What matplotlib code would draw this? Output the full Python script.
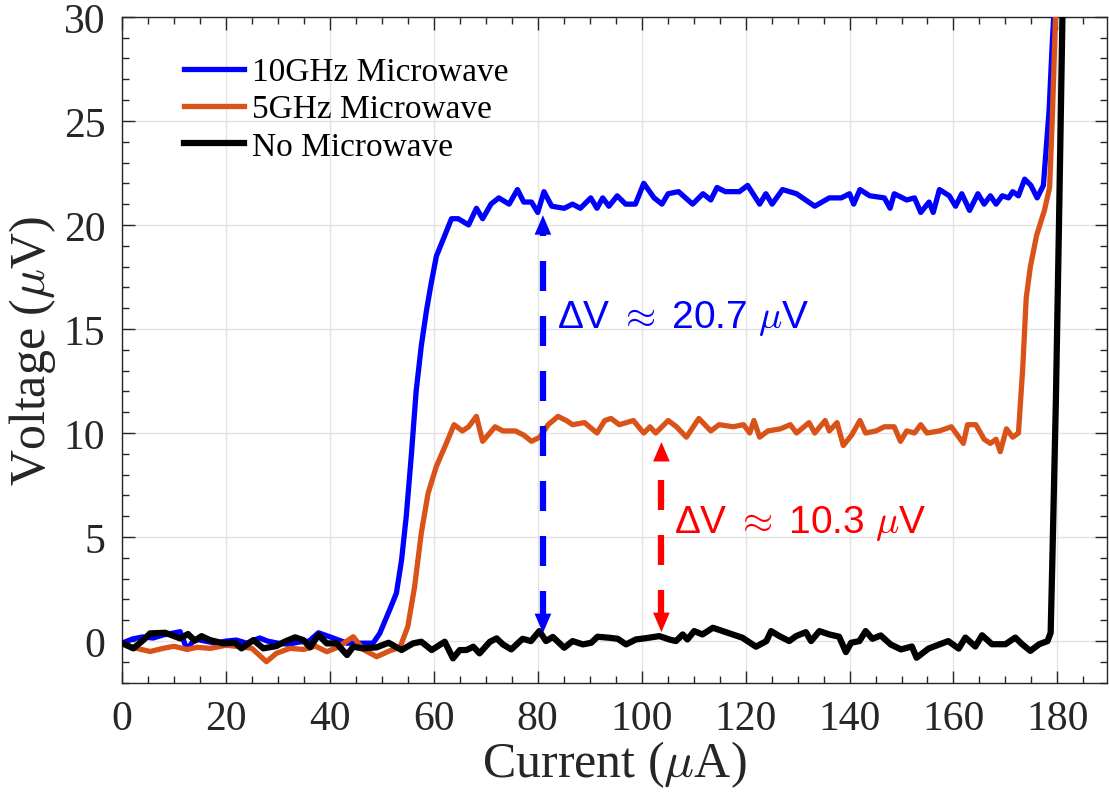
import matplotlib
matplotlib.use('Agg')
import matplotlib.pyplot as plt
from matplotlib.ticker import MultipleLocator

plt.rcParams['font.family'] = 'serif'
plt.rcParams['font.serif'] = ['Liberation Serif', 'DejaVu Serif']
plt.rcParams['mathtext.fontset'] = 'cm'

# --- data (current in uA, voltage in uV) ---
blue_x = [0, 2, 4, 6, 8, 11.2, 12.5, 14, 16, 18, 20, 22, 24, 26.5, 28, 30, 32, 34, 36, 37.8,
          40.6, 43.3, 46, 48.3, 49.6, 51.5, 52.8, 53.8, 54.7, 55.7, 56.6, 57.6, 58.6, 59.5,
          60.5, 61.8, 63.4, 64.7, 66.7, 68.2, 69.4, 71.0, 72.5, 74.5, 76.1, 77.3, 78.8, 80.0,
          81.2, 82.7, 85.1, 86.7, 88.2, 90.2, 91.4, 92.5, 93.7, 95.3, 96.9, 98.8, 100.4, 102.4,
          103.9, 105.1, 107.1, 109.8, 111.8, 113.3, 114.5, 116.1, 118.8, 120.4, 122.7, 123.9,
          125.1, 127.1, 129.8, 133.3, 136.1, 138.4, 140.0, 140.8, 142.0, 143.9, 146.7, 147.8,
          148.6, 151.0, 152.5, 153.7, 155.3, 156.1, 157.3, 159.2, 160.4, 161.6, 163.1, 164.7,
          165.9, 167.1, 168.2, 169.4, 170.6, 171.4, 172.5, 173.7, 174.9, 176.1, 177.3, 178.4,
          179.0, 179.4]
blue_y = [-0.1, 0.1, 0.2, 0.15, 0.3, 0.45, -0.4, 0.1, 0.0, -0.1, 0.0, 0.05, -0.1, 0.15, 0.0,
          -0.1, -0.15, -0.05, 0.0, 0.4, 0.15, -0.1, -0.1, -0.1, 0.37, 1.5, 2.3, 3.9, 6.0, 9.0,
          12.0, 14.2, 15.9, 17.2, 18.5, 19.3, 20.3, 20.3, 20.0, 20.8, 20.3, 21.0, 21.3, 21.0,
          21.7, 21.1, 21.1, 20.6, 21.6, 20.9, 20.8, 21.0, 20.8, 21.3, 20.8, 21.3, 20.9, 21.4,
          21.0, 21.0, 22.0, 21.3, 21.0, 21.5, 21.6, 21.0, 21.5, 21.2, 21.8, 21.6, 21.6, 21.9,
          21.0, 21.5, 21.0, 21.7, 21.5, 20.9, 21.3, 21.3, 21.5, 21.0, 21.7, 21.4, 21.3, 20.8,
          21.5, 21.2, 21.3, 20.6, 21.1, 20.6, 21.7, 21.4, 20.9, 21.5, 20.7, 21.5, 21.0, 21.4,
          21.0, 21.4, 21.3, 21.6, 21.4, 22.2, 21.9, 21.3, 21.9, 25.5, 28.7, 30.5]

orange_x = [0, 2, 5.4, 7.9, 10, 12.5, 14.5, 17, 20, 22.7, 25, 27.8, 29.7, 32.3, 35, 37.2,
            39.4, 41.5, 44.5, 46.4, 49.0, 51.6, 53.5, 55.0, 56.3, 57.6, 58.9, 60.5, 62.4,
            63.9, 65.5, 66.7, 68.2, 69.4, 71.8, 73.3, 75.7, 77.3, 78.8, 80.4, 82.0, 83.9,
            85.5, 86.7, 89.0, 91.4, 92.9, 94.1, 95.7, 98.4, 100.4, 101.6, 102.7, 105.1,
            106.7, 108.6, 111.0, 113.3, 114.9, 117.6, 119.6, 120.8, 121.6, 122.7, 124.3,
            126.7, 128.6, 129.8, 132.2, 133.3, 135.3, 136.1, 137.6, 138.8, 140.4, 142.0,
            143.1, 145.1, 146.7, 148.6, 149.8, 151.0, 152.5, 153.7, 154.9, 157.3, 159.6,
            161.9, 162.7, 164.3, 165.9, 167.1, 168.2, 169.0, 170.2, 171.4, 172.5, 173.3,
            174.0, 174.8, 176.0, 177.5, 178.5, 179.0, 179.7]
orange_y = [-0.1, -0.3, -0.5, -0.35, -0.25, -0.4, -0.3, -0.35, -0.2, -0.27, -0.35, -0.99,
            -0.59, -0.35, -0.4, -0.24, -0.51, -0.3, 0.21, -0.4, -0.75, -0.46, -0.3, 0.7, 2.6,
            5.2, 7.1, 8.4, 9.5, 10.4, 10.1, 10.3, 10.8, 9.6, 10.3, 10.1, 10.1, 9.9, 9.6, 9.8,
            10.4, 10.8, 10.6, 10.4, 10.5, 10.0, 10.6, 10.7, 10.4, 10.6, 10.0, 10.3, 10.0,
            10.6, 10.3, 9.8, 10.7, 10.1, 10.4, 10.3, 10.4, 10.0, 10.6, 9.8, 10.1, 10.2, 10.4,
            10.0, 10.5, 10.0, 10.6, 10.1, 10.5, 9.4, 9.9, 10.6, 10.0, 10.1, 10.3, 10.3, 9.6,
            10.1, 10.0, 10.4, 10.0, 10.1, 10.3, 9.5, 10.4, 10.4, 9.7, 9.5, 9.7, 9.1, 10.2,
            9.8, 10.0, 13.0, 16.5, 18.0, 19.5, 20.7, 21.8, 25.0, 30.5]

black_x = [0, 2.2, 4.1, 5.4, 8.3, 11.2, 12.7, 14.0, 15.3, 16.9, 19.5, 21.7, 23.0, 25.3, 27.2,
           29.7, 31.3, 33.3, 34.9, 36.2, 37.8, 39.4, 41.3, 43.3, 44.5, 46.4, 49.0, 51.3, 53.8,
           56.0, 57.6, 59.6, 62.1, 63.7, 65.0, 66.3, 67.6, 68.8, 70.8, 72.1, 73.3, 74.9, 77.1,
           78.7, 80.3, 81.6, 82.9, 85.1, 86.7, 88.7, 90.3, 91.5, 93.8, 95.4, 97.0, 98.9,
           100.8, 103.4, 105.3, 106.6, 107.9, 108.8, 110.1, 111.7, 113.7, 115.6, 117.5,
           119.4, 122.0, 124.0, 124.9, 126.5, 128.4, 129.7, 131.6, 132.6, 134.2, 136.1,
           138.0, 139.3, 140.3, 141.9, 143.1, 144.4, 146.0, 147.9, 149.9, 152.0, 152.9,
           155.2, 157.4, 159.0, 161.0, 162.3, 164.2, 165.5, 167.4, 170.0, 171.9, 173.2,
           174.8, 176.5, 178.1, 178.7, 179.0, 179.7, 180.3, 181.0]
black_y = [-0.1, -0.35, 0.05, 0.37, 0.4, 0.13, 0.34, 0.02, 0.24, 0.05, -0.11, -0.08, -0.35,
           0.05, -0.35, -0.24, -0.03, 0.18, 0.05, -0.3, 0.29, -0.11, -0.11, -0.67, -0.27,
           -0.35, -0.3, -0.08, -0.43, -0.11, -0.03, -0.43, -0.03, -0.83, -0.43, -0.43, -0.27,
           -0.59, -0.03, 0.13, -0.16, -0.4, 0.11, 0.0, 0.48, 0.0, 0.2, -0.32, 0.0, -0.16,
           -0.08, 0.21, 0.16, 0.11, -0.16, 0.08, 0.14, 0.24, 0.08, 0.0, 0.32, 0.08, 0.48, 0.32,
           0.64, 0.48, 0.32, 0.16, -0.27, 0.0, 0.48, 0.24, 0.0, 0.24, 0.43, 0.0, 0.48, 0.32,
           0.21, -0.53, -0.08, 0.0, 0.48, 0.11, 0.27, -0.16, -0.4, -0.26, -0.8, -0.36, -0.15,
           0.0, -0.36, 0.17, -0.26, 0.28, -0.15, -0.15, 0.17, -0.15, -0.47, -0.15, 0.0, 0.4,
           3.6, 11.5, 20.0, 30.5]

# annotations: (current, low V, high V, label)
dv10_x, dv10_lo, dv10_hi = 81.0, 0.25, 20.6
dv5_x, dv5_lo, dv5_hi = 103.8, 0.3, 9.7
dv10_label = r'ΔV$\;\approx\;$20.7 $\mu$V'
dv5_label = r'ΔV$\;\approx\;$10.3 $\mu$V'

blue = '#0000ff'
orange = '#d95319'
red = '#ff0000'

fig = plt.figure(figsize=(11.09, 8.12), dpi=100)
ax = fig.add_axes([0.110, 0.158, 0.888, 0.820])

ax.plot(blue_x, blue_y, color=blue, lw=3.8, label='10GHz Microwave', zorder=3)
ax.plot(orange_x, orange_y, color=orange, lw=3.8, label='5GHz Microwave', zorder=3)
ax.plot(black_x, black_y, color='black', lw=4.5, label='No Microwave', zorder=4)

# dashed double arrows
def dv_arrow(x, lo, hi, c):
    head = 0.7
    ax.plot([x, x], [lo + head, hi - head], color=c, lw=4.5, ls=(0, (4.8, 4.0)), zorder=5)
    for tip, tail in ((hi, hi - 1.2), (lo, lo + 1.2)):
        ax.annotate('', xy=(x, tip), xytext=(x, tail),
                    arrowprops=dict(arrowstyle='-|>,head_length=0.7,head_width=0.3',
                                    color=c, lw=0, mutation_scale=20), zorder=6)

dv_arrow(dv10_x, dv10_lo, dv10_hi, blue)
dv_arrow(dv5_x, dv5_lo, dv5_hi, red)

ax.text(83.7, 15.55, dv10_label, color=blue, fontsize=28, family='Liberation Sans',
        va='center', ha='left')
ax.text(106.3, 5.7, dv5_label, color=red, fontsize=28, family='Liberation Sans',
        va='center', ha='left')

ax.set_xlim(0, 189.5)
ax.set_ylim(-2, 30)
ax.xaxis.set_major_locator(MultipleLocator(20))
ax.xaxis.set_minor_locator(MultipleLocator(5))
ax.yaxis.set_major_locator(MultipleLocator(5))
ax.yaxis.set_minor_locator(MultipleLocator(1))
ax.tick_params(which='both', direction='in', top=True, right=True, colors='#262626',
               labelsize=30, width=1)
ax.tick_params(which='major', length=9, pad=12)
ax.tick_params(which='minor', length=5)
for s in ax.spines.values():
    s.set_color('#262626')
    s.set_linewidth(1)
ax.grid(True, which='major', color='#e3e3e3', lw=1)
ax.set_axisbelow(True)

ax.set_xlabel(r'Current ($\mu$A)', fontsize=36, color='#262626', labelpad=0)
ax.set_ylabel(r'Voltage ($\mu$V)', fontsize=36, color='#262626', labelpad=4)

ax.legend(loc='upper left', bbox_to_anchor=(0.049, 0.96), frameon=False, fontsize=24,
          handlelength=1.8, handletextpad=0.25, labelspacing=0.2, borderaxespad=0)

fig.savefig('out.png', dpi=100)
